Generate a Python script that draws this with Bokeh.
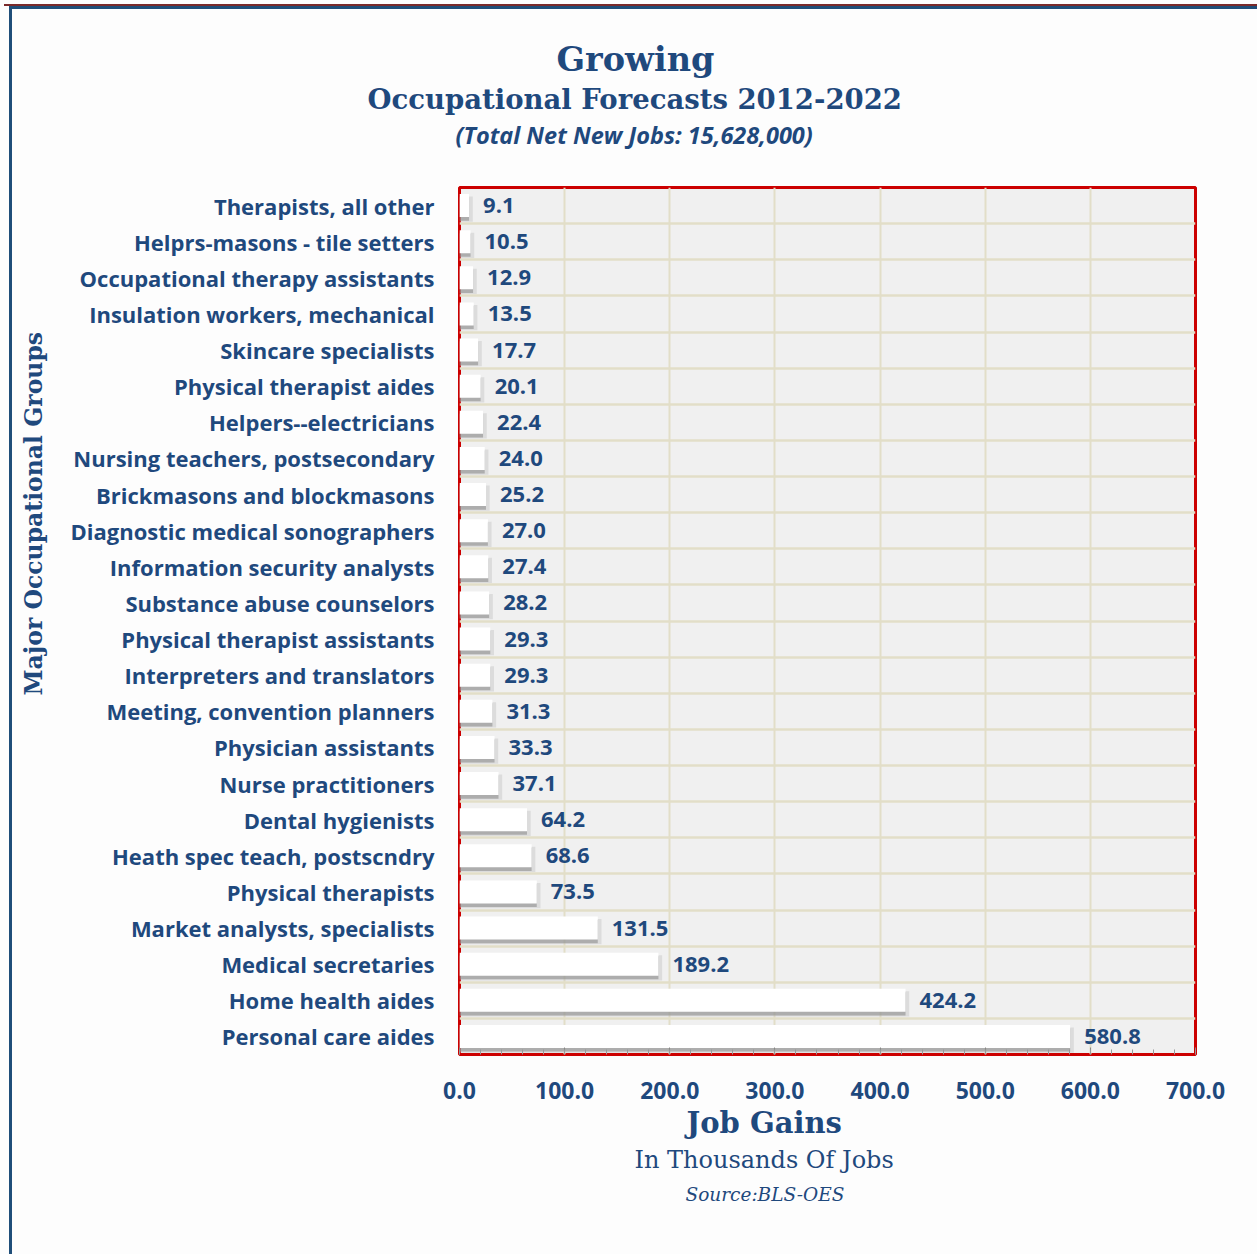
from bokeh.plotting import figure
from bokeh.models import (ColumnDataSource, FixedTicker, SingleIntervalTicker, Title, Range1d)
from bokeh.core.properties import value
from bokeh.embed import file_html
from bokeh.resources import INLINE

categories = ["Therapists, all other", "Helprs-masons - tile setters",
              "Occupational therapy assistants", "Insulation workers, mechanical",
              "Skincare specialists", "Physical therapist aides", "Helpers--electricians",
              "Nursing teachers, postsecondary", "Brickmasons and blockmasons",
              "Diagnostic medical sonographers", "Information security analysts",
              "Substance abuse counselors", "Physical therapist assistants",
              "Interpreters and translators", "Meeting, convention planners",
              "Physician assistants", "Nurse practitioners", "Dental hygienists",
              "Heath spec teach, postscndry", "Physical therapists",
              "Market analysts, specialists", "Medical secretaries",
              "Home health aides", "Personal care aides"]
values = [9.1, 10.5, 12.9, 13.5, 17.7, 20.1, 22.4, 24.0, 25.2, 27.0, 27.4, 28.2,
          29.3, 29.3, 31.3, 33.3, 37.1, 64.2, 68.6, 73.5, 131.5, 189.2, 424.2, 580.8]
x_ticks = [0, 100, 200, 300, 400, 500, 600, 700]

title_main = "Growing"
title_sub = "Occupational Forecasts  2012-2022"
title_note = "(Total Net New Jobs: 15,628,000)"
x_title = "Job Gains"
x_sub = "In Thousands Of Jobs"
source_note = "Source:BLS-OES"
y_title = "Major Occupational Groups"

BLUE = "#1F497D"
n = len(categories)
ypos = [n - 1 - i for i in range(n)]

W, H = 1257, 1254
FL, FR, FT, FB = 459, 1195, 187, 1054

p = figure(width=W, height=H, output_backend="svg", toolbar_location=None,
           x_range=Range1d(0, 700), y_range=Range1d(-0.5, n - 0.5),
           min_border_left=FL, min_border_right=W - FR,
           min_border_top=FT, min_border_bottom=H - FB,
           background_fill_color="#F0F0F0", border_fill_color="#FDFDFD",
           border_fill_alpha=0)
p.styles = {
    "background": ("linear-gradient(#7A2A2A,#7A2A2A) 4px 4px / 1253px 2px no-repeat, "
                   "linear-gradient(#1F4E79,#1F4E79) 9px 6px / 1248px 3px no-repeat, "
                   "linear-gradient(#1F4E79,#1F4E79) 9px 6px / 3px 1248px no-repeat, "
                   "#FDFDFD"),
}

src = ColumnDataSource(dict(y=ypos, v=values, lab=[f"{v:.1f}" for v in values],
                            ys=[y - 0.1 for y in ypos],
                            vs=[v + 3.5 for v in values]))

# shadow layers
p.hbar(y="ys", right="vs", left=0, height=0.70, source=src,
       fill_color="#BDBDBD", fill_alpha=0.4, line_color=None)
p.hbar(y="ys", right="v", left=0, height=0.64, source=src,
       fill_color="#8E8E8E", fill_alpha=0.6, line_color=None)
# bars
p.hbar(y="y", right="v", left=0, height=0.64, source=src,
       fill_color="#FFFFFF", line_color=None)

p.text(x="v", y="y", text="lab", source=src, x_offset=14,
       text_font=value("Open Sans"), text_font_style="bold", text_font_size="22px",
       text_color=BLUE, text_baseline="middle", text_align="left")

# grids
p.xgrid.ticker = FixedTicker(ticks=x_ticks)
p.xgrid.grid_line_color = "#E2DEC8"
p.xgrid.grid_line_width = 2
p.ygrid.ticker = FixedTicker(ticks=[i + 0.5 for i in range(n - 1)])
p.ygrid.grid_line_color = "#E2DEC8"
p.ygrid.grid_line_width = 2.5

p.outline_line_color = "#CC0000"
p.outline_line_width = 3

# x axis
xa = p.xaxis[0]
xa.ticker = SingleIntervalTicker(interval=100, num_minor_ticks=5)
xa.axis_line_color = None
xa.major_tick_in = 7
xa.major_tick_out = 0
xa.minor_tick_in = 5
xa.minor_tick_out = 0
xa.major_tick_line_color = "#888888"
xa.minor_tick_line_color = "#999999"
xa.major_label_overrides = {t: f"{t:.1f}" for t in x_ticks}
xa.major_label_text_font = "Open Sans"
xa.major_label_text_font_style = "bold"
xa.major_label_text_font_size = "23px"
xa.major_label_text_color = BLUE
xa.major_label_standoff = 27

# y axis
ya = p.yaxis[0]
ya.ticker = FixedTicker(ticks=ypos)
ya.major_label_overrides = {y: c for y, c in zip(ypos, categories)}
ya.axis_line_color = None
ya.major_tick_line_color = None
ya.minor_tick_line_color = None
ya.major_label_text_font = "Open Sans"
ya.major_label_text_font_style = "bold"
ya.major_label_text_font_size = "22px"
ya.major_label_text_color = BLUE
ya.major_label_standoff = 19


def ttl(text, side, size, offset, standoff, font="DejaVu Serif", style="bold"):
    p.add_layout(Title(text=text, align="left", offset=offset, standoff=standoff,
                       vertical_align="middle", text_font=font,
                       text_font_style=style, text_font_size=size,
                       text_color=BLUE), side)


# above: closest to frame first
ttl(" ", "above", "20px", 0, 8, font="Lato", style="normal")   # spacer
ttl(title_note, "above", "23.5px", -4, 3, font="Open Sans", style="bold italic")
ttl(title_sub, "above", "27.5px", -92, 1)
ttl(title_main, "above", "33.5px", 97, 4)

# below: after the x axis
ttl(x_title, "below", "29px", 227, 7)
ttl(x_sub, "below", "24px", 175, 0, style="normal")
ttl(source_note, "below", "18.5px", 226, 17, style="italic")

# left: y title
ttl(y_title, "left", "23.5px", 359, 37)

open("out.html", "w").write(file_html(p, INLINE))
